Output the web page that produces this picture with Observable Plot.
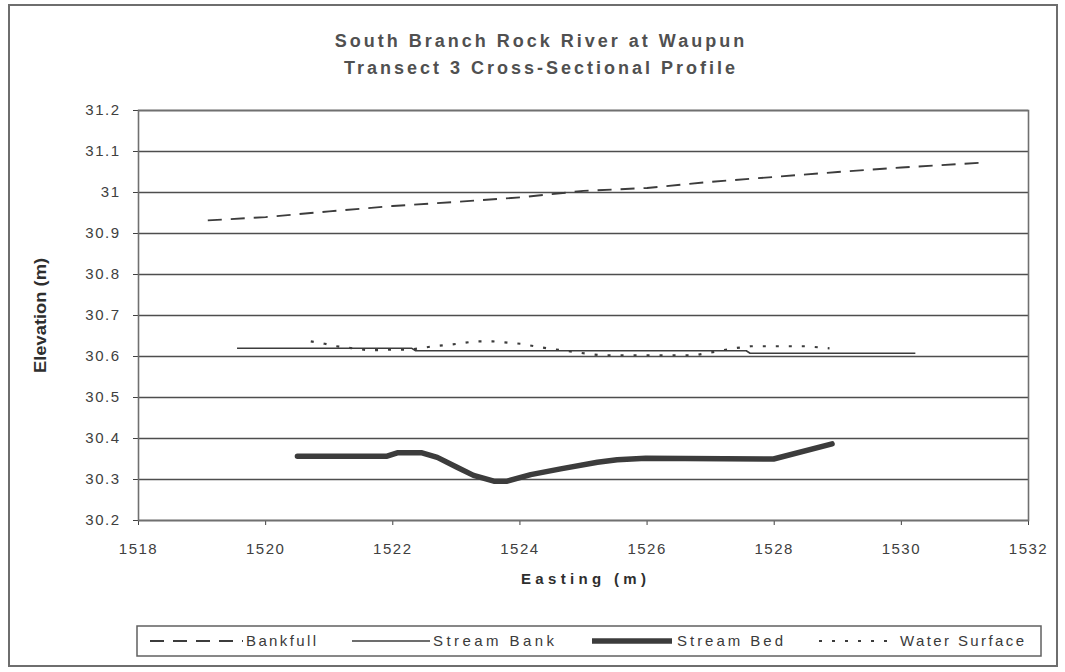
<!DOCTYPE html>
<html>
<head>
<meta charset="utf-8">
<script src="https://cdn.jsdelivr.net/npm/d3@7"></script>
<script src="https://cdn.jsdelivr.net/npm/@observablehq/plot@0.6"></script>
<style>
  html, body { margin: 0; padding: 0; background: #fff; }
  body { width: 1065px; height: 672px; position: relative; overflow: hidden;
         font-family: "Liberation Sans", Arial, sans-serif; }
  #border { position: absolute; left: 8px; top: 4px; width: 1050px; height: 663px;
            border: 2px solid #6e6e6e; box-sizing: border-box; }
  #title { position: absolute; left: 0; top: 28px; width: 1082px; text-align: center;
           font-size: 18px; font-weight: bold; color: #505050; letter-spacing: 3px; line-height: 27px; }
  #chart { position: absolute; left: 0; top: 90px; }
  #legend { position: absolute; left: 136px; top: 625px; }
</style>
</head>
<body>
<div id="border"></div>
<div id="title">South Branch Rock River at Waupun<br>Transect 3 Cross-Sectional Profile</div>
<div id="chart"></div>
<div id="legend"></div>
<script>
// ---- data ----
const eastTicks = [1518, 1520, 1522, 1524, 1526, 1528, 1530, 1532];
const eastTickLabels = ["1518", "1520", "1522", "1524", "1526", "1528", "1530", "1532"];
const elevTicks = [30.2, 30.3, 30.4, 30.5, 30.6, 30.7, 30.8, 30.9, 31.0, 31.1, 31.2];
const elevTickLabels = ["30.2", "30.3", "30.4", "30.5", "30.6", "30.7", "30.8", "30.9", "31", "31.1", "31.2"];

const seriesNames = ["Bankfull", "Stream Bank", "Stream Bed", "Water Surface"];

const bankfullE  = [1519.09, 1520.0, 1521.0, 1522.0, 1523.0, 1524.0, 1525.0, 1526.0, 1527.0, 1528.0, 1529.0, 1530.0, 1531.3];
const bankfullEl = [30.932, 30.940, 30.954, 30.967, 30.977, 30.988, 31.004, 31.011, 31.026, 31.038, 31.050, 31.061, 31.073];

const streamBankE  = [1519.55, 1522.30, 1522.36, 1527.56, 1527.62, 1530.22];
const streamBankEl = [30.620, 30.620, 30.614, 30.614, 30.608, 30.608];

const streamBedE  = [1520.50, 1521.91, 1522.07, 1522.46, 1522.70, 1523.01, 1523.27, 1523.59, 1523.80, 1524.17, 1524.64, 1525.22, 1525.53, 1525.98, 1527.99, 1528.91];
const streamBedEl = [30.357, 30.357, 30.365, 30.365, 30.354, 30.330, 30.310, 30.296, 30.296, 30.312, 30.326, 30.342, 30.348, 30.352, 30.350, 30.387];

const waterE  = [1520.71, 1520.93, 1521.11, 1521.62, 1522.04, 1522.29, 1522.64, 1523.02, 1523.30, 1523.57, 1524.01, 1524.42, 1524.95, 1525.27, 1525.43, 1526.76, 1526.97, 1527.36, 1527.63, 1528.51, 1528.87];
const waterEl = [30.637, 30.631, 30.625, 30.615, 30.617, 30.617, 30.625, 30.631, 30.637, 30.637, 30.631, 30.620, 30.609, 30.603, 30.603, 30.603, 30.609, 30.620, 30.625, 30.625, 30.620];

// ---- styles ----
const lineColor = "#3c3c3c";
const styles = {
  "Bankfull":      {strokeWidth: 1.9, dash: "14,9"},
  "Stream Bank":   {strokeWidth: 1.6, dash: null},
  "Stream Bed":    {strokeWidth: 5.5, dash: null},
  "Water Surface": {strokeWidth: 2.2, dash: "3,10"}
};

const toRows = (E, El) => E.map((e, i) => ({e, el: El[i]}));
const bankfull = toRows(bankfullE, bankfullEl);
const streamBank = toRows(streamBankE, streamBankEl);
const streamBed = toRows(streamBedE, streamBedEl);
const water = toRows(waterE, waterEl);

const lineMark = (data, name) => Plot.line(data, {
  x: "e", y: "el", stroke: lineColor,
  strokeWidth: styles[name].strokeWidth,
  strokeDasharray: styles[name].dash,
  strokeLinecap: name === "Stream Bed" ? "round" : "butt",
  strokeLinejoin: "round"
});

const chart = Plot.plot({
  width: 1065,
  height: 510,
  marginLeft: 138,
  marginRight: 37,
  marginTop: 20,
  marginBottom: 80,
  style: {fontFamily: "'Liberation Sans', Arial, sans-serif", fontSize: "15px", color: "#404040", background: "transparent", overflow: "visible"},
  x: {domain: [1518, 1532], ticks: eastTicks, tickFormat: d => eastTickLabels[eastTicks.indexOf(d)],
      tickSize: 5, tickPadding: 18, label: "Easting (m)", labelAnchor: "center", labelOffset: 63, labelArrow: "none"},
  y: {domain: [30.2, 31.2], ticks: elevTicks, tickFormat: d => elevTickLabels[elevTicks.indexOf(d)],
      tickSize: 5, tickPadding: 13, label: "Elevation (m)", labelAnchor: "center", labelOffset: 104, labelArrow: "none"},
  marks: [
    Plot.ruleY(elevTicks, {stroke: "#4e4e4e", strokeWidth: 1.7}),
    Plot.frame({stroke: "#707070", strokeWidth: 1.6}),
    lineMark(bankfull, "Bankfull"),
    lineMark(streamBank, "Stream Bank"),
    lineMark(streamBed, "Stream Bed"),
    lineMark(water, "Water Surface")
  ]
});
document.getElementById("chart").appendChild(chart);

// tick label spacing and axis label styling
d3.select(chart).selectAll("text").each(function() {
  const t = d3.select(this);
  const s = this.textContent.trim();
  if (s === "Easting (m)") {
    t.attr("font-weight", "bold").attr("font-size", 15).attr("fill", "#2e2e2e")
     .attr("textLength", 125).attr("lengthAdjust", "spacing");
  } else if (s === "Elevation (m)") {
    t.attr("font-weight", "bold").attr("font-size", 16).attr("fill", "#2e2e2e")
     .attr("textLength", 115).attr("lengthAdjust", "spacingAndGlyphs");
  }
});
d3.select(chart).selectAll("g[aria-label='x-axis tick label'] text, g[aria-label='y-axis tick label'] text")
  .attr("letter-spacing", "1.5px");

// ---- legend ----
const legendW = 906, legendH = 32;
const legend = d3.select("#legend").append("svg")
  .attr("width", legendW).attr("height", legendH);
legend.append("rect").attr("x", 1).attr("y", 1).attr("width", legendW - 2).attr("height", legendH - 2)
  .attr("fill", "#fff").attr("stroke", "#606060").attr("stroke-width", 1.5);
const legendItems = [
  {name: "Bankfull",      x1: 14,  x2: 107, tx: 110, tw: 70},
  {name: "Stream Bank",   x1: 216, x2: 294, tx: 297, tw: 121},
  {name: "Stream Bed",    x1: 456, x2: 536, tx: 541, tw: 106},
  {name: "Water Surface", x1: 683, x2: 761, tx: 764, tw: 124}
];
legendItems.forEach(it => {
  const st = styles[it.name];
  legend.append("line").attr("x1", it.x1).attr("x2", it.x2).attr("y1", 16).attr("y2", 16)
    .attr("stroke", lineColor).attr("stroke-width", st.strokeWidth)
    .attr("stroke-dasharray", st.dash);
  legend.append("text").attr("x", it.tx).attr("y", 21)
    .attr("font-size", 15).attr("fill", "#3a3a3a")
    .attr("font-family", "'Liberation Sans', Arial, sans-serif")
    .attr("textLength", it.tw).attr("lengthAdjust", "spacing")
    .text(it.name);
});
</script>
</body>
</html>
